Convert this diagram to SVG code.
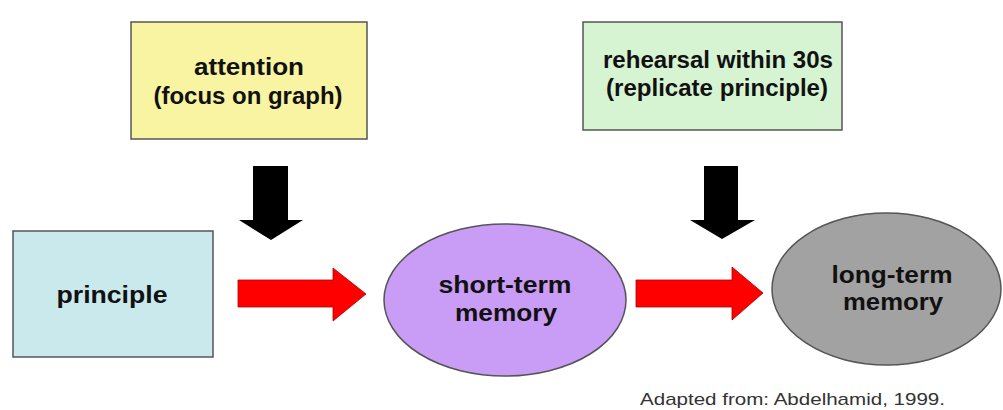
<svg xmlns="http://www.w3.org/2000/svg" width="1003" height="410" viewBox="0 0 1003 410">
<style>
.node{stroke:#555;stroke-width:1.5}
.lbl{font-family:"Liberation Sans",Arial,sans-serif;font-weight:bold;font-size:23px;fill:#111;text-anchor:middle}
.note{font-family:"Liberation Sans",Arial,sans-serif;font-size:17px;fill:#333}
.blk{fill:#000}
.red{fill:#ff0000;stroke:#a00;stroke-width:0.8}
</style>
<rect width="1003" height="410" fill="#fff"/>
<g id="attention">
<rect class="node" x="131" y="22" width="236" height="117" fill="#f8f4a2"/>
<text class="lbl" x="249" y="75" textLength="110" lengthAdjust="spacingAndGlyphs">attention</text>
<text class="lbl" x="248" y="104" textLength="189" lengthAdjust="spacingAndGlyphs">(focus on graph)</text>
</g>
<g id="rehearsal">
<rect class="node" x="583" y="22" width="259" height="108" fill="#d6f4d2"/>
<text class="lbl" x="718" y="68" textLength="230" lengthAdjust="spacingAndGlyphs">rehearsal within 30s</text>
<text class="lbl" x="717" y="96" textLength="222" lengthAdjust="spacingAndGlyphs">(replicate principle)</text>
</g>
<g id="principle">
<rect class="node" x="13" y="231" width="200" height="126" fill="#c9e9ec"/>
<text class="lbl" x="112" y="303" textLength="111" lengthAdjust="spacingAndGlyphs">principle</text>
</g>
<g id="short-term">
<ellipse class="node" cx="505" cy="300" rx="121" ry="76" fill="#c99cf5"/>
<text class="lbl" x="505" y="293" textLength="133" lengthAdjust="spacingAndGlyphs">short-term</text>
<text class="lbl" x="506" y="321" textLength="102" lengthAdjust="spacingAndGlyphs">memory</text>
</g>
<g id="long-term">
<ellipse class="node" cx="886.5" cy="289" rx="114.5" ry="76" fill="#a2a2a2"/>
<text class="lbl" x="892" y="283" textLength="121" lengthAdjust="spacingAndGlyphs">long-term</text>
<text class="lbl" x="893" y="310" textLength="100" lengthAdjust="spacingAndGlyphs">memory</text>
</g>
<g id="connectors">
<polygon class="blk" points="253,166 288,166 288,220 303,220 271,240 239,220 253,220"/>
<polygon class="blk" points="704,166 738,166 738,220 755,220 722,239 690,220 704,220"/>
<polygon class="red" points="238,280 333,280 333,268 366,294 333,321 333,307 238,307"/>
<polygon class="red" points="636,280 732,280 732,267 763,293 732,320 732,307 636,307"/>
</g>
<text class="note" x="640" y="405" textLength="305" lengthAdjust="spacingAndGlyphs">Adapted from: Abdelhamid, 1999.</text>
</svg>
